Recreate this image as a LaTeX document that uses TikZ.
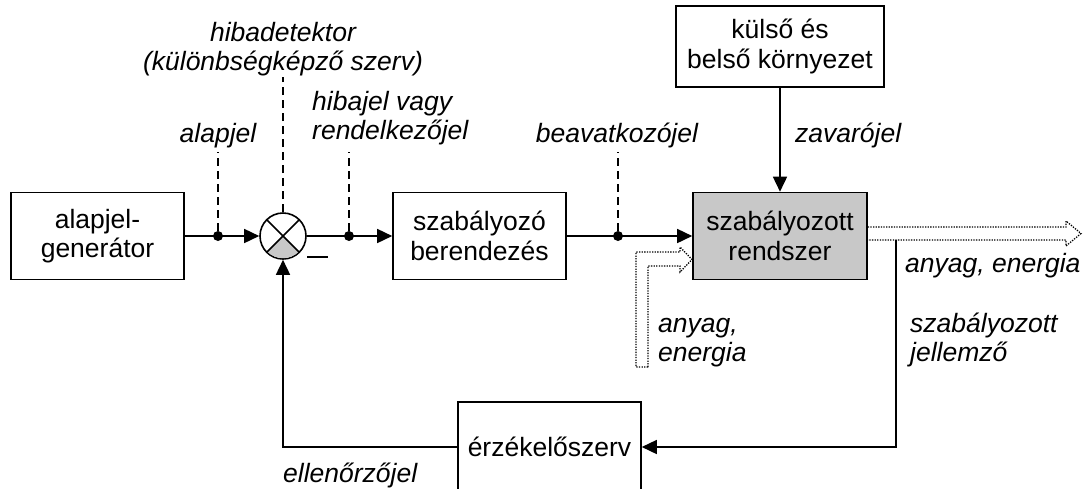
\documentclass[tikz,border=0pt]{standalone}
\usepackage{fontspec}
\setmainfont{Liberation Sans}
\usetikzlibrary{arrows.meta}
\definecolor{boxgray}{RGB}{200,200,200}
\newcommand\duo[3]{\begin{tabular}[t]{@{}#1@{}}#2\\#3\end{tabular}}
\begin{document}
\begin{tikzpicture}[x=1pt,y=1pt,
  every node/.style={font=\fontsize{26.5}{29.5}\selectfont, inner sep=0pt},
  blk/.style={draw, line width=1.6pt, minimum width=173pt, minimum height=87pt, align=center},
  lbl/.style={font=\fontsize{26.5}{29.5}\selectfont\itshape},
  wire/.style={line width=1.6pt},
  arr/.style={wire, -{Triangle[length=15pt,width=14pt]}},
  tap/.style={line width=1.5pt, dash pattern=on 8pt off 5pt},
  dotline/.style={line width=1.3pt, dash pattern=on 1.3pt off 1.3pt},
  junct/.style={circle, fill, minimum size=10pt, inner sep=0pt}]

\clip (0,0) rectangle (1085,-488);

% blocks
\node[blk] (gen) at (97.5,-236) {alapjel-\\generátor};
\node[blk] (ctrl) at (479.5,-236) {szabályozó\\berendezés};
\node[blk, fill=boxgray, minimum width=174pt] (plant) at (780,-236) {szabályozott\\rendszer};
\node[blk, minimum width=208pt, minimum height=81pt] (env) at (780,-46.5) {külső és\\belső környezet};
\node[blk, minimum width=183pt, minimum height=90pt] (sens) at (549.5,-447) {érzékelőszerv};

% summing junction
\node[circle, draw, line width=1.6pt, minimum size=46pt] (sum) at (283,-236) {};
\fill[boxgray] (sum.center) -- ++(225:22.2) arc[start angle=225, end angle=315, radius=22.2] -- cycle;
\draw[wire] (sum.center) ++(45:23) -- ++(225:46);
\draw[wire] (sum.center) ++(135:23) -- ++(315:46);
\node (minus) at (317.5,-257) {\rule{21pt}{2.6pt}};

% junction dots
\node[junct] (j1) at (218,-236) {};
\node[junct] (j2) at (349,-236) {};
\node[junct] (j3) at (618,-236) {};

% signal connectors
\draw[arr] (gen.east) -- (sum.west);
\draw[arr] (sum.east) -- (ctrl.west);
\draw[arr] (ctrl.east) -- (plant.west);
\draw[arr] (env.south) -- (plant.north);
\coordinate (fb) at (896,-240);
\draw[arr] (fb) |- (sens.east);
\draw[arr] (sens.west) -| (sum.south);

% dashed taps
\draw[tap] (j1) -- (218,-152);
\draw[tap] (j2) -- (349,-152);
\draw[tap] (j3) -- (618,-152);
\draw[tap] (sum.north) -- (283,-77);

% material / energy flows
\draw[dotline] (plant.east |- 0,-227) -- (1066,-227) -- (1066,-221) -- (1081,-233.5)
  -- (1066,-246) -- (1066,-240) -- (plant.east |- 0,-240);
\draw[dotline] (648,-367) -- (636,-367) -- (636,-252) -- (680,-252) -- (680,-247)
  -- (692,-259.5) -- (680,-272) -- (680,-266) -- (648,-266) -- cycle;

% labels
\node[lbl, anchor=base] (lhib) at (283,-41) {\duo{c}{hibadetektor}{(különbségképző szerv)}};
\node[lbl, anchor=base] (lalap) at (218,-142) {alapjel};
\node[lbl, anchor=base west] (lhibajel) at (312,-110) {\duo{l}{hibajel vagy}{rendelkezőjel}};
\node[lbl, anchor=base] (lbeav) at (617,-142) {beavatkozójel};
\node[lbl, anchor=base west] (lzav) at (795,-142) {zavarójel};
\node[lbl, anchor=base west] (lout) at (905,-272) {anyag, energia};
\node[lbl, anchor=base west] (lszj) at (910,-332) {\duo{l}{szabályozott}{jellemző}};
\node[lbl, anchor=base west] (lin) at (658,-332) {\duo{l}{anyag,}{energia}};
\node[lbl, anchor=base west] (lell) at (283,-482) {ellenőrzőjel};
\end{tikzpicture}
\end{document}
